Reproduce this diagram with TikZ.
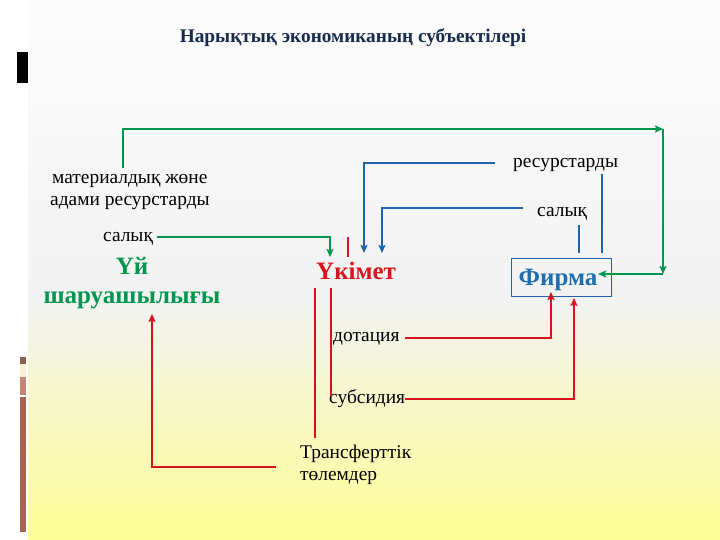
\documentclass[tikz,border=0pt]{standalone}
\usepackage{fontspec}
\setmainfont{Liberation Serif}
\usetikzlibrary{arrows.meta}
\definecolor{cgreen}{RGB}{0,150,80}
\definecolor{cred}{RGB}{215,20,30}
\definecolor{cblue}{RGB}{30,100,170}
\definecolor{cnavy}{RGB}{23,43,77}
\definecolor{cfirm}{RGB}{31,110,175}
\definecolor{cbrown}{RGB}{168,100,82}
\definecolor{cbrownd}{RGB}{140,95,80}
\definecolor{ccream}{RGB}{250,240,215}
\definecolor{cpink}{RGB}{195,135,120}
\definecolor{bgtop}{RGB}{252,252,252}
\definecolor{bgmid}{RGB}{242,242,242}
\definecolor{bgbot}{RGB}{255,255,150}
\begin{document}
\begin{tikzpicture}[x=1pt,y=-1pt,
  lbl/.style={inner sep=0pt, anchor=base west, font=\fontsize{19.4}{22}\selectfont},
  big/.style={inner sep=0pt, anchor=base, font=\fontsize{25}{28}\selectfont\bfseries},
  ln/.style={line width=2pt},
  gl/.style={ln, draw=cgreen},
  rl/.style={ln, draw=cred},
  bl/.style={ln, draw=cblue},
  arr/.style={-{Stealth[length=8pt,width=7pt,inset=1.5pt]}}]
\useasboundingbox (0,0) rectangle (720,540);
% background
\fill[white] (0,0) rectangle (720,540);
\shade[top color=bgtop, bottom color=bgmid] (28,0) rectangle (720,300);
\shade[top color=bgmid, bottom color=bgbot] (28,300) rectangle (720,540);
% left decorations
\fill[black] (17,52) rectangle (28,83);
\fill[cbrownd] (20,357) rectangle (26,364);
\fill[ccream] (20,364) rectangle (26,377);
\fill[cpink] (20,377) rectangle (26,395);
\fill[cbrown] (20,397) rectangle (26,532);
% title
\node[inner sep=0pt, anchor=base, text=cnavy, font=\fontsize{19.3}{22}\selectfont\bfseries] (title) at (353,43) {Нарықтық экономиканың субъектілері};
% labels
\node[lbl] (mat1) at (52,184) {материалдық жөне};
\node[lbl] (mat2) at (50,206) {адами ресурстарды};
\node[lbl] (sal1) at (103,241) {салық};
\node[big, text=cgreen] (uy1) at (132,274) {Үй};
\node[big, text=cgreen] (uy2) at (132,303) {шаруашылығы};
\node[big, anchor=base west, text=cred] (gov) at (316,279) {Үкімет};
\node[draw=cblue, line width=1pt, minimum width=100pt, minimum height=38pt, inner sep=0pt] (firm) at (561,277) {};
\node[big, text=cfirm] (firmtxt) at (558,285) {Фирма};
\node[lbl] (res) at (513,168) {ресурстарды};
\node[lbl] (sal2) at (537,217) {салық};
\node[lbl] (dot) at (333,341) {дотация};
\node[lbl] (sub) at (329,403) {субсидия};
\node[lbl] (tr1) at (300,458) {Трансферттік};
\node[lbl] (tr2) at (300,480) {төлемдер};
% coordinates
\coordinate (g1) at (123,168);
\coordinate (gTR) at (663,129);
\coordinate (gBR) at (663,274);
\coordinate (gF) at (598,274);
\coordinate (g2a) at (157,237);
\coordinate (g2b) at (330,237);
\coordinate (g2c) at (330,257);
\coordinate (r0a) at (348,237);
\coordinate (r0b) at (348,257);
\coordinate (r1a) at (315,288);
\coordinate (r1b) at (315,438);
\coordinate (r2a) at (331,288);
\coordinate (r2b) at (331,396);
\coordinate (r3a) at (276,467);
\coordinate (r3b) at (152,467);
\coordinate (r3c) at (152,314);
\coordinate (r4a) at (405,338);
\coordinate (r4b) at (551,338);
\coordinate (r4c) at (551,292);
\coordinate (r5a) at (405,399);
\coordinate (r5b) at (574,399);
\coordinate (r5c) at (574,298);
\coordinate (b1a) at (495,163);
\coordinate (b1b) at (364,163);
\coordinate (b1c) at (364,253);
\coordinate (b2a) at (523,208);
\coordinate (b2b) at (382,208);
\coordinate (b2c) at (382,253);
\coordinate (b3a) at (579,225);
\coordinate (b3b) at (579,253);
\coordinate (b4a) at (602,174);
\coordinate (b4b) at (602,253);
% green
\draw[gl, arr] (g1) |- (gTR);
\draw[gl, arr] (gTR) -- (gBR);
\draw[gl, arr] (gBR) -- (gF);
\draw[gl, arr] (g2a) -- (g2b) -- (g2c);
% red
\draw[rl] (r0a) -- (r0b);
\draw[rl] (r1a) -- (r1b);
\draw[rl] (r2a) -- (r2b);
\draw[rl, arr] (r3a) -- (r3b) -- (r3c);
\draw[rl, arr] (r4a) -- (r4b) -- (r4c);
\draw[rl, arr] (r5a) -- (r5b) -- (r5c);
% blue
\draw[bl, arr] (b1a) -- (b1b) -- (b1c);
\draw[bl, arr] (b2a) -- (b2b) -- (b2c);
\draw[bl] (b3a) -- (b3b);
\draw[bl] (b4a) -- (b4b);
\end{tikzpicture}
\end{document}
